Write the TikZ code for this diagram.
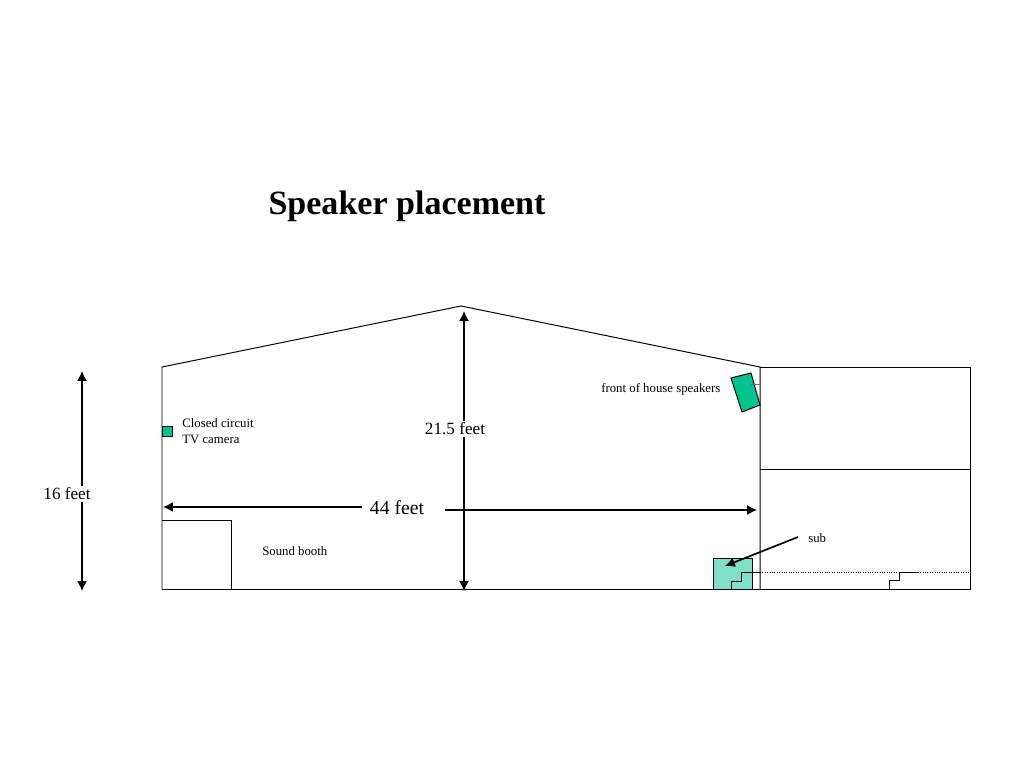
\documentclass[tikz,border=0pt]{standalone}
\usepackage{fontspec}
\setmainfont{Liberation Serif}
\definecolor{speakgreen}{RGB}{0, 196, 144}
\definecolor{subgreen}{RGB}{128, 224, 200}
\usetikzlibrary{arrows.meta, positioning}
\tikzset{
  wall/.style={draw=black, line width=0.7pt},
  tip/.tip={Latex[length=7pt,width=7pt]},
  dimline/.style={draw=black, line width=0.95pt},
  tinylabel/.style={inner sep=0pt, font=\fontsize{9.1}{11}\selectfont, align=left},
  dimlabel/.style={fill=white, inner sep=1pt, font=\fontsize{12.2}{14}\selectfont}
}
\begin{document}
\begin{tikzpicture}[x=0.025cm, y=-0.025cm]
  \useasboundingbox (0,0) rectangle (1024,768);
  \fill[white] (0,0) rectangle (1024,768);

  % Title
  \node[inner sep=0pt, font=\fontsize{24.2}{28}\selectfont\bfseries] (title) at (407,206) {Speaker placement};

  % Sub and speakers go under the walls
  \draw[wall, fill=subgreen] (713,558) rectangle (752,589);
  \draw[wall, fill=speakgreen] (731,378) -- (751,373) -- (760,405) -- (742,412) -- cycle;
  \draw[wall, fill=speakgreen] (162,426) rectangle (172,436);

  % Hall
  \draw[wall] (162,589) -- (162,367) -- (461,306) -- (760,367) -- (760,589);
  \draw[wall] (162,589) -- (970,589) -- (970,367) -- (760,367);
  \draw[wall] (760,469) -- (970,469);
  \draw[wall] (162,520) -- (231,520) -- (231,589);
  \draw[wall, draw=black!60] (751,384) -- (760,384);

  % Stairs
  \draw[wall] (731,589) -- (731,581) -- (741,581) -- (741,572) -- (760,572);
  \draw[wall, densely dotted] (760,572) -- (970,572);
  \draw[wall] (889,589) -- (889,580) -- (899,580) -- (899,572) -- (918,572);

  % Dimensions
  \coordinate (feetA) at (82,371);
  \coordinate (feetB) at (82,591);
  \coordinate (ridge) at (464,311);
  \coordinate (floor) at (464,591);
  \draw[dimline, tip-tip] (feetA) -- (feetB);
  \draw[dimline, tip-tip] (ridge) -- (floor);
  \node[dimlabel] (height) at (67,494) {16 feet};
  \node[dimlabel] (peak) at (455,429) {21.5 feet};

  \node[inner sep=0pt, font=\fontsize{14}{16}\selectfont] (width) at (397,508) {44 feet};
  \coordinate (wallL) at (163,507);
  \coordinate (wallR) at (757,510);
  \coordinate (widthL) at (362,507);
  \coordinate (widthR) at (445,510);
  \draw[dimline, -tip] (widthL) -- (wallL);
  \draw[dimline, -tip] (widthR) -- (wallR);

  % Labels
  \node[tinylabel, anchor=west] (camera) at (182,431) {Closed circuit\\TV camera};
  \node[tinylabel, anchor=west] (booth) at (262,551) {Sound booth};
  \node[tinylabel, anchor=west] (foh) at (601,389) {front of house speakers};
  \node[tinylabel, anchor=west] (sub) at (808,538) {sub};

  \coordinate (subtail) at (798,537);
  \coordinate (subhead) at (725,566);
  \draw[dimline, line width=1.2pt, -tip] (subtail) -- (subhead);
\end{tikzpicture}
\end{document}
